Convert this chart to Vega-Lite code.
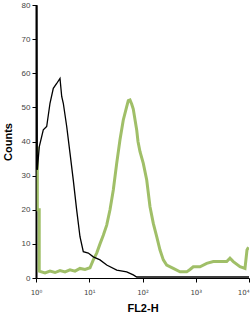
{
  "$schema": "https://vega.github.io/schema/vega-lite/v6.json",
  "autosize": {"type": "none"},
  "width": 213,
  "height": 273,
  "padding": {"left": 36, "top": 5, "right": 3, "bottom": 39},
  "background": "white",
  "config": {"view": {"stroke": null}, "font": "Liberation Sans"},
  "datasets": {
    "isotype": [
      {"fl2": 1, "count": 0},
      {"fl2": 1.001, "count": 90},
      {"fl2": 1.03, "count": 90},
      {"fl2": 1.058, "count": 31.7},
      {"fl2": 1.153, "count": 38.5},
      {"fl2": 1.371, "count": 43.4},
      {"fl2": 1.588, "count": 44.4},
      {"fl2": 1.832, "count": 51.2},
      {"fl2": 2.113, "count": 55.6},
      {"fl2": 2.447, "count": 57},
      {"fl2": 2.823, "count": 58.5},
      {"fl2": 3.039, "count": 53.2},
      {"fl2": 3.256, "count": 51.2},
      {"fl2": 3.773, "count": 44.4},
      {"fl2": 4.35, "count": 36.6},
      {"fl2": 5.015, "count": 28.7},
      {"fl2": 5.81, "count": 19.9},
      {"fl2": 6.7, "count": 12.1},
      {"fl2": 7.73, "count": 7.7},
      {"fl2": 9.6, "count": 7.3},
      {"fl2": 11.91, "count": 6.2},
      {"fl2": 15.92, "count": 5.3},
      {"fl2": 21.27, "count": 3.8},
      {"fl2": 32.8, "count": 2.3},
      {"fl2": 50.5, "count": 1.8},
      {"fl2": 67.1, "count": 0.9},
      {"fl2": 77.8, "count": 0.3},
      {"fl2": 89.8, "count": 0.3},
      {"fl2": 10000, "count": 0.3}
    ],
    "stained": [
      {"fl2": 1, "count": 38},
      {"fl2": 1.06, "count": 38},
      {"fl2": 1.06, "count": 20},
      {"fl2": 1.15, "count": 20},
      {"fl2": 1.15, "count": 2},
      {"fl2": 1.476, "count": 1.5},
      {"fl2": 1.832, "count": 2},
      {"fl2": 2.274, "count": 1.6},
      {"fl2": 2.823, "count": 2.2},
      {"fl2": 3.505, "count": 1.8},
      {"fl2": 4.35, "count": 2.4},
      {"fl2": 5.4, "count": 2.0},
      {"fl2": 6.7, "count": 2.8},
      {"fl2": 8.32, "count": 2.5},
      {"fl2": 10.33, "count": 3},
      {"fl2": 11.91, "count": 5.3},
      {"fl2": 13.8, "count": 7.3},
      {"fl2": 15.92, "count": 10},
      {"fl2": 18.36, "count": 12.5},
      {"fl2": 21.27, "count": 15.5},
      {"fl2": 24.53, "count": 20},
      {"fl2": 28.29, "count": 25.8},
      {"fl2": 32.76, "count": 33.6},
      {"fl2": 37.78, "count": 40.5},
      {"fl2": 43.56, "count": 46.3},
      {"fl2": 50.5, "count": 50.2},
      {"fl2": 54.1, "count": 52},
      {"fl2": 58.2, "count": 52.2},
      {"fl2": 62.6, "count": 51},
      {"fl2": 67.1, "count": 49.5},
      {"fl2": 77.8, "count": 43.4},
      {"fl2": 82.3, "count": 40},
      {"fl2": 89.8, "count": 37},
      {"fl2": 103.5, "count": 33.6},
      {"fl2": 120, "count": 28.7},
      {"fl2": 138.3, "count": 20.9},
      {"fl2": 159.5, "count": 16},
      {"fl2": 184.9, "count": 12.1},
      {"fl2": 213.2, "count": 8.2},
      {"fl2": 246, "count": 5.3},
      {"fl2": 284.6, "count": 3.8},
      {"fl2": 378.6, "count": 2.8},
      {"fl2": 505.6, "count": 1.8},
      {"fl2": 676, "count": 1.8},
      {"fl2": 780, "count": 2.5},
      {"fl2": 899, "count": 3.3},
      {"fl2": 1202, "count": 3.3},
      {"fl2": 1607, "count": 4.3},
      {"fl2": 2137, "count": 4.8},
      {"fl2": 2852, "count": 4.8},
      {"fl2": 3813, "count": 4.8},
      {"fl2": 4396, "count": 5.8},
      {"fl2": 5071, "count": 4.8},
      {"fl2": 6777, "count": 3.3},
      {"fl2": 8410, "count": 2.8},
      {"fl2": 9165, "count": 8.2},
      {"fl2": 9800, "count": 9}
    ]
  },
  "encoding": {
    "x": {
      "field": "fl2", "type": "quantitative",
      "scale": {"type": "log", "domain": [1, 10000], "nice": false},
      "axis": {
        "title": "FL2-H", "titleFont": "Liberation Sans", "titleFontSize": 11, "titleFontWeight": "bold", "titleColor": "#000", "titlePadding": 7,
        "values": [1, 10, 100, 1000, 10000],
        "labelExpr": "datum.value == 1 ? '10⁰' : datum.value == 10 ? '10¹' : datum.value == 100 ? '10²' : datum.value == 1000 ? '10³' : '10⁴'",
        "labelFont": "DejaVu Sans", "labelFontSize": 7, "labelColor": "#444", "labelPadding": 6,
        "tickSize": 4, "tickColor": "#000", "domainColor": "#000", "domainWidth": 1,
        "grid": false, "labelFlush": false, "labelBound": false,
        "labelAlign": {"condition": {"test": "datum.value == 10000", "value": "right"}, "value": "center"}
      }
    },
    "y": {
      "field": "count", "type": "quantitative",
      "scale": {"domain": [0, 80], "nice": false},
      "axis": {
        "title": "Counts", "titleFont": "Liberation Sans", "titleFontSize": 11, "titleFontWeight": "bold", "titleColor": "#000", "titlePadding": 8,
        "values": [0, 10, 20, 30, 40, 50, 60, 70, 80],
        "labelFontSize": 8, "labelColor": "#444", "labelPadding": 2,
        "tickSize": 4, "tickColor": "#000", "domainColor": "#000", "domainWidth": 2,
        "grid": false
      }
    }
  },
  "layer": [
    {
      "data": {"name": "stained"},
      "mark": {"type": "line", "clip": true, "color": "#a0bf68", "strokeWidth": 3}
    },
    {
      "data": {"name": "isotype"},
      "mark": {"type": "line", "clip": true, "color": "#000000", "strokeWidth": 1.3}
    }
  ]
}
